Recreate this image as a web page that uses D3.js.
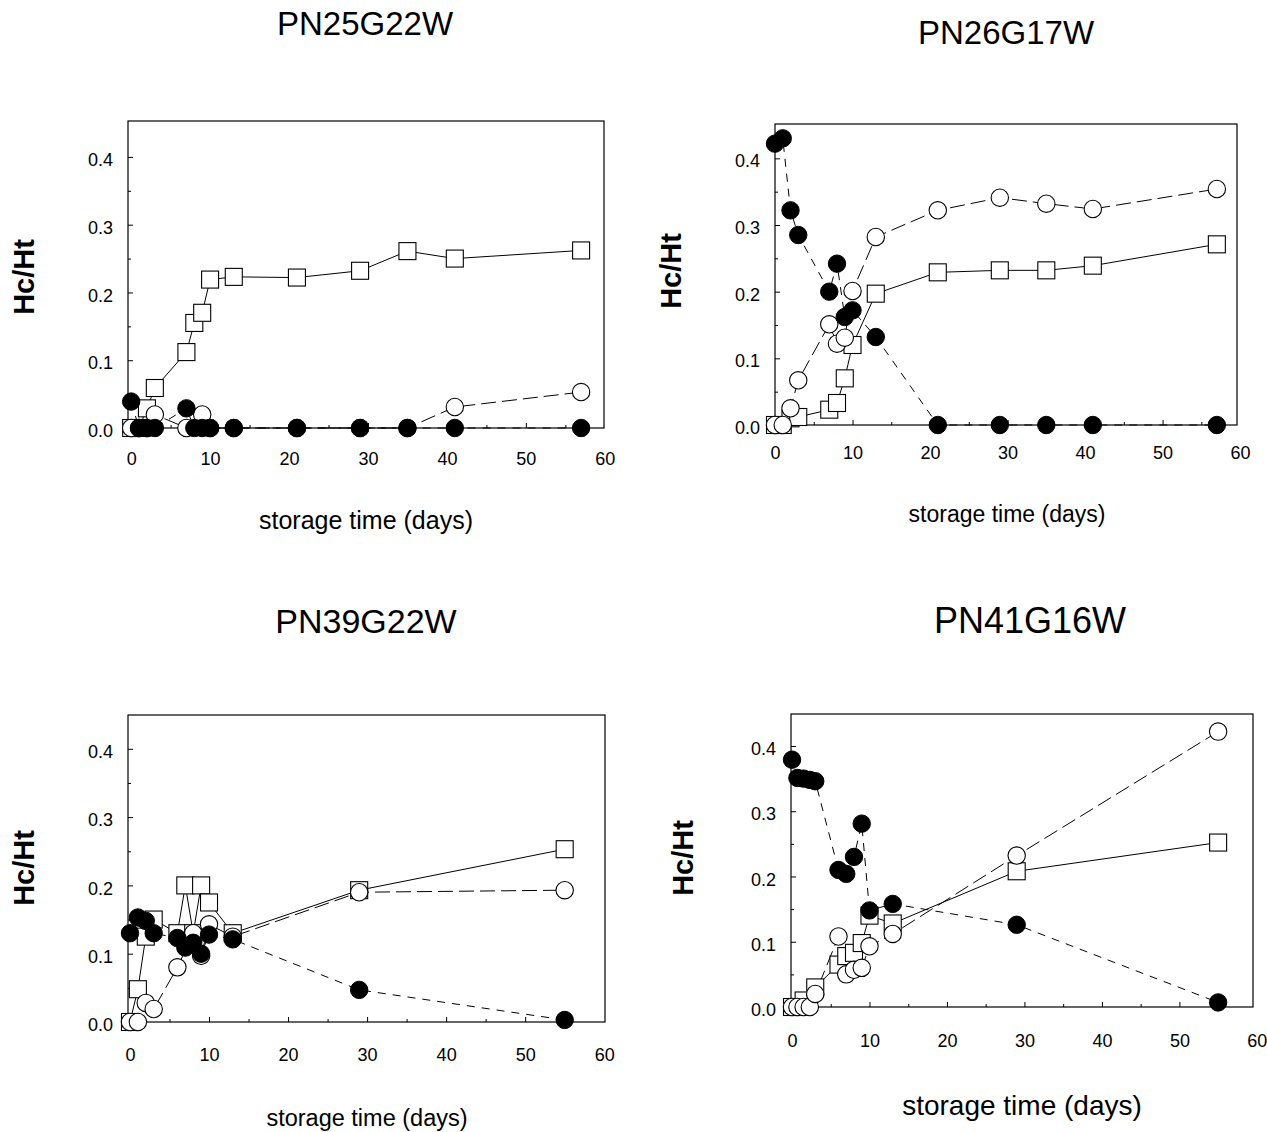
<!DOCTYPE html>
<html>
<head>
<meta charset="utf-8">
<script src="https://cdn.jsdelivr.net/npm/d3@7"></script>
<style>
  body { margin: 0; background: #fff; }
  svg { display: block; font-family: "Liberation Sans", Arial, sans-serif; }
</style>
</head>
<body>
<div id="chart"></div>
<script>
/* Hc/Ht vs storage time, four samples, drawn as a 2x2 grid of small plots. */

var titles = ['PN25G22W', 'PN26G17W', 'PN39G22W', 'PN41G16W'];
var yTicks = [0, 0.1, 0.2, 0.3, 0.4];
var xTicks = [0, 10, 20, 30, 40, 50, 60];

/* PN25G22W */
var p1SquareDays = [0, 1, 2, 3, 7, 8, 9, 10, 13, 21, 29, 35, 41, 57];
var p1SquareVals = [0, 0, 0.029, 0.059, 0.112, 0.155, 0.17, 0.219, 0.223, 0.222, 0.232, 0.261, 0.25, 0.262];
var p1OpenDays = [0, 1, 2, 3, 7, 9, 10, 13, 21, 29, 35, 41, 57];
var p1OpenVals = [0, 0, 0, 0.02, 0, 0.02, 0, 0, 0, 0, 0, 0.031, 0.053];
var p1FilledDays = [0, 1, 2, 3, 7, 8, 9, 10, 13, 21, 29, 35, 41, 57];
var p1FilledVals = [0.039, 0, 0, 0, 0.029, 0, 0, 0, 0, 0, 0, 0, 0, 0];

/* PN26G17W */
var p2Days = [0, 1, 2, 3, 7, 8, 9, 10, 13, 21, 29, 35, 41, 57];
var p2SquareVals = [0, 0, 0.01, 0.012, 0.023, 0.033, 0.07, 0.12, 0.197, 0.229, 0.232, 0.232, 0.239, 0.271];
var p2OpenVals = [0, 0, 0.025, 0.067, 0.151, 0.122, 0.131, 0.201, 0.282, 0.322, 0.341, 0.332, 0.324, 0.354];
var p2FilledVals = [0.422, 0.43, 0.322, 0.285, 0.2, 0.242, 0.162, 0.172, 0.132, 0, 0, 0, 0, 0];

/* PN39G22W */
var p3SquareDays = [0, 1, 2, 3, 6, 7, 8, 9, 10, 13, 29, 55];
var p3SquareVals = [0, 0.048, 0.125, 0.15, 0.13, 0.2, 0.13, 0.2, 0.175, 0.13, 0.193, 0.253];
var p3OpenDays = [0, 1, 2, 3, 6, 8, 9, 10, 13, 29, 55];
var p3OpenVals = [0, 0, 0.028, 0.019, 0.08, 0.13, 0.097, 0.143, 0.125, 0.19, 0.193];
var p3FilledDays = [0, 1, 2, 3, 6, 7, 8, 9, 10, 13, 29, 55];
var p3FilledVals = [0.13, 0.153, 0.148, 0.13, 0.123, 0.109, 0.116, 0.1, 0.128, 0.121, 0.047, 0.003];

/* PN41G16W */
var p4SquareDays = [0, 1.5, 3, 6, 7, 8, 9, 10, 13, 29, 55];
var p4SquareVals = [0, 0.01, 0.03, 0.065, 0.078, 0.083, 0.098, 0.14, 0.128, 0.208, 0.252];
var p4OpenDays = [0, 0.7, 1.5, 2.3, 3, 6, 7, 8, 9, 10, 13, 29, 55];
var p4OpenVals = [0, 0, 0, 0, 0.02, 0.108, 0.05, 0.057, 0.06, 0.093, 0.112, 0.232, 0.422];
var p4FilledDays = [0, 0.7, 1.5, 2.3, 3, 6, 7, 8, 9, 10, 13, 29, 55];
var p4FilledVals = [0.379, 0.351, 0.35, 0.348, 0.346, 0.21, 0.204, 0.23, 0.281, 0.148, 0.158, 0.126, 0.007];

function zip(xs, ys) {
  return xs.map(function(x, i) { return [x, ys[i]]; });
}

var panelSeries = [
  { square: zip(p1SquareDays, p1SquareVals), open: zip(p1OpenDays, p1OpenVals), filled: zip(p1FilledDays, p1FilledVals) },
  { square: zip(p2Days, p2SquareVals), open: zip(p2Days, p2OpenVals), filled: zip(p2Days, p2FilledVals) },
  { square: zip(p3SquareDays, p3SquareVals), open: zip(p3OpenDays, p3OpenVals), filled: zip(p3FilledDays, p3FilledVals) },
  { square: zip(p4SquareDays, p4SquareVals), open: zip(p4OpenDays, p4OpenVals), filled: zip(p4FilledDays, p4FilledVals) }
];

/* frame box in pixels, axis ranges, and where the labels sit */
var layout = [
  { left: 128, right: 604, top: 121, bottom: 428, xMin: -0.4, xMax: 59.9, yMax: 0.453,
    title: [365, 35, 33], yLab: [24, 277], xLab: [366, 529, 25], xPad: 24 },
  { left: 775, right: 1237, top: 124, bottom: 425, xMin: 0, xMax: 59.6, yMax: 0.4515,
    title: [1006, 44, 33], yLab: [671, 271], xLab: [1007, 522, 23], xPad: 21 },
  { left: 128, right: 605, top: 715, bottom: 1022, xMin: -0.25, xMax: 60.1, yMax: 0.4495,
    title: [366, 633, 34], yLab: [24, 868], xLab: [367, 1126, 23.5], xPad: 26 },
  { left: 791, right: 1253, top: 714, bottom: 1007, xMin: -0.13, xMax: 59.5, yMax: 0.449,
    title: [1030, 633, 36], yLab: [683, 858], xLab: [1022, 1115, 28], xPad: 27 }
];

var W = 1267, H = 1132;
var R = 8.7, SIDE = 17;

var svg = d3.select('#chart').append('svg')
  .attr('width', W)
  .attr('height', H);

layout.forEach(function(L, i) {
  var data = panelSeries[i];
  var x = d3.scaleLinear().domain([L.xMin, L.xMax]).range([L.left, L.right]);
  var y = d3.scaleLinear().domain([0, L.yMax]).range([L.bottom, L.top]);
  var g = svg.append('g');

  /* minor ticks */
  g.append('g')
    .attr('transform', 'translate(' + L.left + ',0)')
    .call(d3.axisLeft(y).tickValues(d3.range(0.05, 0.45, 0.1)).tickSize(-3).tickFormat(''))
    .call(function(a) { a.select('.domain').remove(); });
  g.append('g')
    .attr('transform', 'translate(0,' + L.bottom + ')')
    .call(d3.axisBottom(x).tickValues(d3.range(5, 60, 10)).tickSize(-3).tickFormat(''))
    .call(function(a) { a.select('.domain').remove(); });

  /* major ticks + labels */
  var yAxis = g.append('g')
    .attr('transform', 'translate(' + L.left + ',0)')
    .call(d3.axisLeft(y).tickValues(yTicks).tickSize(-5).tickPadding(15).tickFormat(d3.format('.1f')));
  yAxis.select('.domain').remove();
  yAxis.selectAll('text').attr('dy', '0.48em');

  var xAxis = g.append('g')
    .attr('transform', 'translate(0,' + L.bottom + ')')
    .call(d3.axisBottom(x).tickValues(xTicks).tickSize(-5).tickPadding(L.xPad).tickFormat(d3.format('d')));
  xAxis.select('.domain').remove();
  xAxis.selectAll('line').filter(function(d) { return d === 0 || d === 60; }).remove();

  g.selectAll('.tick text')
    .attr('fill', '#000')
    .style('font-size', '18px')
    .style('font-family', '"Liberation Sans", Arial, sans-serif');
  g.selectAll('.tick line').attr('stroke', '#000');

  g.append('rect')
    .attr('x', L.left).attr('y', L.top)
    .attr('width', L.right - L.left).attr('height', L.bottom - L.top)
    .attr('fill', 'none').attr('stroke', '#000').attr('stroke-width', 1.2);

  /* lines */
  var line = d3.line().x(function(d) { return x(d[0]); }).y(function(d) { return y(d[1]); });
  g.append('path').datum(data.square).attr('d', line)
    .attr('fill', 'none').attr('stroke', '#000').attr('stroke-width', 1);
  g.append('path').datum(data.open).attr('d', line)
    .attr('fill', 'none').attr('stroke', '#000').attr('stroke-width', 1)
    .attr('stroke-dasharray', '15,6');
  g.append('path').datum(data.filled).attr('d', line)
    .attr('fill', 'none').attr('stroke', '#000').attr('stroke-width', 1)
    .attr('stroke-dasharray', '8,7');

  /* markers */
  g.append('g').selectAll('rect').data(data.square).join('rect')
    .attr('x', function(d) { return x(d[0]) - SIDE / 2; })
    .attr('y', function(d) { return y(d[1]) - SIDE / 2; })
    .attr('width', SIDE).attr('height', SIDE)
    .attr('fill', '#fff').attr('stroke', '#000').attr('stroke-width', 1.1);
  g.append('g').selectAll('circle').data(data.open).join('circle')
    .attr('cx', function(d) { return x(d[0]); })
    .attr('cy', function(d) { return y(d[1]); })
    .attr('r', R)
    .attr('fill', '#fff').attr('stroke', '#000').attr('stroke-width', 1.1);
  g.append('g').selectAll('circle').data(data.filled).join('circle')
    .attr('cx', function(d) { return x(d[0]); })
    .attr('cy', function(d) { return y(d[1]); })
    .attr('r', R)
    .attr('fill', '#000').attr('stroke', '#000').attr('stroke-width', 1);

  /* texts */
  svg.append('text')
    .attr('x', L.title[0]).attr('y', L.title[1])
    .attr('text-anchor', 'middle')
    .style('font-size', L.title[2] + 'px')
    .text(titles[i]);

  svg.append('text')
    .attr('transform', 'translate(' + L.yLab[0] + ',' + L.yLab[1] + ') rotate(-90)')
    .attr('text-anchor', 'middle')
    .attr('dy', '0.35em')
    .style('font-size', '29px')
    .style('font-weight', 'bold')
    .text('Hc/Ht');

  svg.append('text')
    .attr('x', L.xLab[0]).attr('y', L.xLab[1])
    .attr('text-anchor', 'middle')
    .style('font-size', L.xLab[2] + 'px')
    .text('storage time (days)');
});
</script>
</body>
</html>
